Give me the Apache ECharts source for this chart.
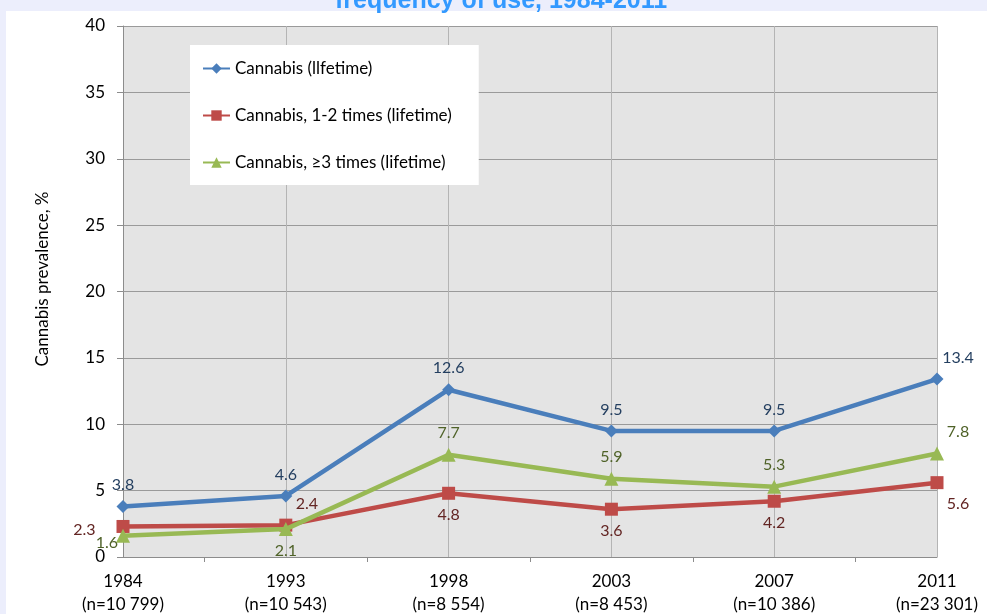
<!DOCTYPE html>
<html>
<head>
<meta charset="utf-8">
<script src="https://cdn.jsdelivr.net/npm/echarts@6/dist/echarts.min.js"></script>
<style>
  html, body { margin: 0; padding: 0; background: #eceefc; }
  #chart { width: 987px; height: 614px; }
</style>
</head>
<body>
<div id="chart"></div>
<script>
// Survey years and sample sizes
const years = ['1984', '1993', '1998', '2003', '2007', '2011'];
const sampleSizes = ['n=10 799', 'n=10 543', 'n=8 554', 'n=8 453', 'n=10 386', 'n=23 301'];

// Prevalence, %
const lifetime = [3.8, 4.6, 12.6, 9.5, 9.5, 13.4];
const once12 = [2.3, 2.4, 4.8, 3.6, 4.2, 5.6];
const threePlus = [1.6, 2.1, 7.7, 5.9, 5.3, 7.8];

const seriesNames = ['Cannabis (llfetime)', 'Cannabis, 1-2 times (lifetime)', 'Cannabis, \u22653 times (lifetime)'];

// Value-axis ticks
const yMin = 0, yMax = 40, yStep = 5;

// Where each point's value label sits
const lifetimeLabelPlace = ['up', 'up', 'up', 'up', 'up', 'upRight'];
const once12LabelPlace = ['left', 'upRight', 'down', 'down', 'down', 'downRight'];
const threePlusLabelPlace = ['leftLow', 'down', 'up', 'up', 'up', 'upRight'];

const font = 'Lato, "Open Sans", sans-serif';

function labelFor(place, color) {
  const base = { show: true, color: color, fontSize: 16, fontFamily: font };
  switch (place) {
    case 'up': return Object.assign(base, { position: 'top', distance: 7 });
    case 'upRight': return Object.assign(base, { position: 'top', distance: 7, offset: [21, 0] });
    case 'down': return Object.assign(base, { position: 'bottom', distance: 7 });
    case 'downRight': return Object.assign(base, { position: 'bottom', distance: 7, offset: [21, 0] });
    case 'left': return Object.assign(base, { position: 'left', distance: 21, offset: [0, 3] });
    case 'leftLow': return Object.assign(base, { position: 'left', distance: 0, offset: [2, 7] });
  }
  return base;
}

function points(values, places, color) {
  return values.map((v, i) => ({ value: v, label: labelFor(places[i], color) }));
}

const chart = echarts.init(document.getElementById('chart'), null, { renderer: 'canvas' });

chart.setOption({
  backgroundColor: '#eceefc',
  animation: false,
  graphic: [
    {
      type: 'rect', z: -10, silent: true,
      shape: { x: 6, y: 11, width: 981, height: 603 },
      style: { fill: '#ffffff' }
    },
    {
      type: 'text', z: 10, silent: true,
      left: 335, top: -11,
      style: {
        text: 'frequency of use, 1984-2011',
        font: 'bold 25px "Liberation Sans", Arial, sans-serif',
        fill: '#3399ff'
      }
    }
  ],
  grid: {
    left: 123, top: 26, width: 814, height: 531,
    outerBoundsMode: 'none',
    containLabel: false,
    show: true, backgroundColor: '#e4e4e4', borderWidth: 0
  },
  legend: {
    orient: 'vertical',
    left: 190, top: 45,
    backgroundColor: '#ffffff',
    padding: [15, 27, 14, 12],
    itemGap: 30,
    itemWidth: 27, itemHeight: 13,
    textStyle: { color: '#000000', fontSize: 17, fontFamily: font },
    data: seriesNames
  },
  xAxis: [
    {
      type: 'category',
      data: years.map((y, i) => y + '\n(' + sampleSizes[i] + ')'),
      boundaryGap: false,
      axisLine: { lineStyle: { color: '#8c8c8c', width: 1 } },
      axisTick: { show: false },
      splitLine: { show: true, lineStyle: { color: '#b4b4b4', width: 1 } },
      axisLabel: {
        color: '#000000', fontSize: 17, fontFamily: font,
        lineHeight: 23, margin: 13
      }
    },
    {
      type: 'value', min: 0, max: 5, interval: 1,
      position: 'bottom',
      axisLine: { show: false },
      axisLabel: { show: false },
      axisTick: { show: false },
      splitLine: { show: false },
      minorTick: { show: true, splitNumber: 2, length: 5, lineStyle: { color: '#8c8c8c' } }
    }
  ],
  yAxis: {
    type: 'value',
    min: yMin, max: yMax, interval: yStep,
    name: 'Cannabis prevalence, %',
    nameLocation: 'middle',
    nameGap: 72,
    nameTextStyle: { color: '#000000', fontSize: 17, fontFamily: font, padding: [0, 0, 0, 25] },
    axisLine: { show: true, lineStyle: { color: '#8c8c8c' } },
    axisTick: { show: true, length: 6, lineStyle: { color: '#8c8c8c' } },
    splitLine: { lineStyle: { color: '#9a9a9a', width: 1 } },
    axisLabel: { color: '#000000', fontSize: 17, fontFamily: font, margin: 18 }
  },
  series: [
    {
      name: seriesNames[0], type: 'line', xAxisIndex: 0,
      data: points(lifetime, lifetimeLabelPlace, '#243f60'),
      symbol: 'diamond', symbolSize: 13,
      lineStyle: { color: '#4a7ebb', width: 4.5 },
      itemStyle: { color: '#4a7ebb' },
      z: 4
    },
    {
      name: seriesNames[1], type: 'line', xAxisIndex: 0,
      data: points(once12, once12LabelPlace, '#632523'),
      symbol: 'rect', symbolSize: 13,
      lineStyle: { color: '#be4b48', width: 4.5 },
      itemStyle: { color: '#be4b48' },
      z: 3
    },
    {
      name: seriesNames[2], type: 'line', xAxisIndex: 0,
      data: points(threePlus, threePlusLabelPlace, '#4f6228'),
      symbol: 'triangle', symbolSize: 14,
      lineStyle: { color: '#98b954', width: 4.5 },
      itemStyle: { color: '#98b954' },
      z: 5
    }
  ]
});
</script>
</body>
</html>
